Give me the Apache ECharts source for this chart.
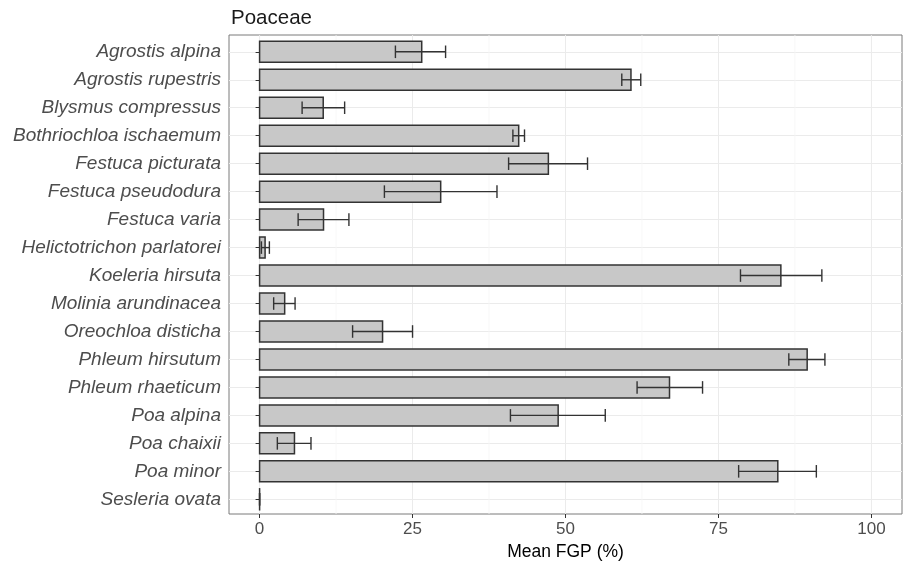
<!DOCTYPE html>
<html>
<head>
<meta charset="utf-8">
<script src="https://cdn.jsdelivr.net/npm/echarts@6/dist/echarts.min.js"></script>
<style>html,body{margin:0;padding:0;background:#fff}#c{width:903px;height:566px}</style>
</head>
<body>
<div id="c"></div>
<script>
const categories = ["Agrostis alpina","Agrostis rupestris","Blysmus compressus","Bothriochloa ischaemum","Festuca picturata","Festuca pseudodura","Festuca varia","Helictotrichon parlatorei","Koeleria hirsuta","Molinia arundinacea","Oreochloa disticha","Phleum hirsutum","Phleum rhaeticum","Poa alpina","Poa chaixii","Poa minor","Sesleria ovata"];
const means   = [26.5, 60.7, 10.4, 42.35, 47.2, 29.6, 10.45, 0.9, 85.2, 4.1, 20.1, 89.5, 67.0, 48.8, 5.7, 84.7, 0];
const errLow  = [22.2, 59.2, 6.95, 41.4, 40.7, 20.4, 6.3, 0.3, 78.6, 2.3, 15.2, 86.5, 61.7, 41.0, 2.9, 78.3, 0];
const errHigh = [30.4, 62.3, 13.9, 43.3, 53.6, 38.8, 14.6, 1.6, 91.9, 5.8, 25.0, 92.4, 72.4, 56.5, 8.4, 91.0, 0];
const xTicks = [0, 25, 50, 75, 100];
const xMinor = [12.5, 37.5, 62.5, 87.5];

const FONT = 'Liberation Sans';
const chart = echarts.init(document.getElementById('c'), null, {renderer: 'canvas'});

const barData = categories.map((c, i) => [means[i], i, errLow[i], errHigh[i]]);
const gridData = xTicks.map(v => [v, 1]).concat(xMinor.map(v => [v, 0]));

chart.setOption({
  backgroundColor: '#ffffff',
  animation: false,
  title: {
    text: 'Poaceae', left: 226, top: 3,
    textStyle: {fontFamily: FONT, fontSize: 20.5, fontWeight: 'normal', color: '#1a1a1a'}
  },
  grid: [
    {left: 229, right: 1, top: 35, bottom: 50, show: true, borderColor: '#7a7a7a', borderWidth: 1, backgroundColor: '#ffffff', containLabel: false},
    {left: 229, right: 1, top: 51.8, bottom: 66.7, containLabel: false}
  ],
  xAxis: [
    {
      type: 'value', gridIndex: 0, min: -5, max: 105,
      axisLine: {show: false},
      axisTick: {show: true, length: 4, customValues: xTicks, lineStyle: {color: '#333333', width: 1}},
      axisLabel: {show: true, customValues: xTicks, margin: 7, fontFamily: FONT, fontSize: 17, color: '#4d4d4d'},
      splitLine: {show: false},
      name: 'Mean FGP (%)', nameLocation: 'middle', nameGap: 29,
      nameTextStyle: {fontFamily: FONT, fontSize: 17.5, color: '#000000'}
    },
    {
      type: 'value', gridIndex: 1, min: -5, max: 105, show: false
    }
  ],
  yAxis: [
    {type: 'value', gridIndex: 0, min: 0, max: 1, show: false},
    {
      type: 'category', gridIndex: 1, data: categories, inverse: true, boundaryGap: false,
      axisLine: {show: false},
      axisTick: {show: true, length: 4, lineStyle: {color: '#333333', width: 1}},
      axisLabel: {margin: 8, fontFamily: FONT, fontSize: 19, fontStyle: 'italic', color: '#4d4d4d', interval: 0},
      splitLine: {show: true, lineStyle: {color: '#ebebeb', width: 1}}
    }
  ],
  series: [
    {
      type: 'custom', xAxisIndex: 0, yAxisIndex: 0, z: 1, silent: true,
      data: gridData,
      renderItem: function (params, api) {
        const v = api.value(0);
        const major = api.value(1) === 1;
        const a = api.coord([v, 0]);
        const b = api.coord([v, 1]);
        return {type: 'line', shape: {x1: a[0], y1: a[1], x2: b[0], y2: b[1]},
          style: {stroke: major ? '#ebebeb' : '#f5f5f5', lineWidth: major ? 1 : 0.8}};
      }
    },
    {
      type: 'custom', xAxisIndex: 1, yAxisIndex: 1, z: 3, clip: false, silent: true,
      encode: {x: 0, y: 1},
      data: barData,
      renderItem: function (params, api) {
        const v = api.value(0), i = api.value(1), lo = api.value(2), hi = api.value(3);
        const band = api.size([0, 1])[1];
        const h = band * 0.75;
        const cap = band * 0.45;
        const s = api.coord([0, i]);
        const e = api.coord([v, i]);
        const l = api.coord([lo, i]);
        const r = api.coord([hi, i]);
        const w = Math.max(e[0] - s[0], 0.01);
        const stroke = '#333333';
        return {
          type: 'group',
          children: [
            {type: 'rect', shape: {x: s[0], y: s[1] - h / 2, width: w, height: h},
              style: {fill: '#c8c8c8', stroke: stroke, lineWidth: 1.5}},
            {type: 'line', shape: {x1: l[0], y1: l[1], x2: r[0], y2: r[1]}, style: {stroke: stroke, lineWidth: 1.4}},
            {type: 'line', shape: {x1: l[0], y1: l[1] - cap / 2, x2: l[0], y2: l[1] + cap / 2}, style: {stroke: stroke, lineWidth: 1.4}},
            {type: 'line', shape: {x1: r[0], y1: r[1] - cap / 2, x2: r[0], y2: r[1] + cap / 2}, style: {stroke: stroke, lineWidth: 1.4}}
          ]
        };
      }
    }
  ]
});
</script>
</body>
</html>
